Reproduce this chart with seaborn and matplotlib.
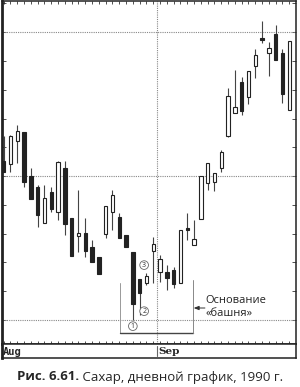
import numpy as np
import pandas as pd
import matplotlib
matplotlib.use("Agg")
import matplotlib.pyplot as plt
import seaborn as sns

# ---- data (arbitrary price units) ----
opens  = [15.52, 15.42, 16.22, 16.53, 15.00, 14.62, 13.37, 14.44, 13.75, 15.28,
          13.54, 12.92, 13.02, 12.53, 12.19, 12.99, 13.75, 13.58, 12.95, 12.36,
          11.42, 11.28, 12.40, 11.67, 11.67, 11.74, 11.28, 13.19, 12.60, 13.51,
          14.76, 14.79, 15.28, 16.39, 17.19, 18.26, 17.74, 18.82, 19.79, 19.27,
          19.93, 19.27, 17.29]
highs  = [16.39, 16.42, 16.77, 16.53, 15.28, 14.69, 14.69, 14.62, 15.52, 15.52,
          13.54, 14.51, 13.54, 12.78, 12.19, 13.96, 14.51, 13.72, 12.95, 12.36,
          11.42, 11.63, 12.88, 12.26, 11.91, 11.84, 13.13, 13.72, 13.47, 15.00,
          15.45, 15.10, 15.90, 18.06, 18.68, 18.44, 18.65, 19.41, 20.38, 19.65,
          20.24, 19.41, 19.69]
lows   = [15.14, 15.14, 15.45, 14.62, 14.20, 13.23, 13.37, 13.75, 13.47, 12.95,
          12.22, 12.36, 12.19, 12.01, 11.60, 12.85, 13.13, 12.85, 12.53, 10.00,
          10.17, 11.22, 11.28, 11.32, 11.04, 11.11, 11.28, 12.78, 12.60, 13.51,
          14.51, 14.48, 15.14, 16.35, 17.19, 17.12, 17.50, 18.40, 19.62, 18.47,
          19.03, 17.53, 17.29]
closes = [15.14, 16.39, 16.56, 14.79, 14.20, 13.65, 14.24, 13.85, 15.49, 13.33,
          12.22, 13.02, 12.40, 12.01, 11.60, 13.96, 14.34, 12.85, 12.53, 10.56,
          10.94, 11.53, 12.64, 12.12, 11.46, 11.25, 13.13, 13.13, 12.81, 15.00,
          15.45, 15.10, 15.83, 17.78, 17.40, 17.26, 18.65, 19.20, 19.72, 19.44,
          19.03, 17.85, 19.69]
month_labels = ["Aug", "Sep"]
month_starts = [-0.25, 22.57]
ref_levels = [10, 15, 20]
caption_bold = "Рис. 6.61."
caption_rest = " Сахар, дневной график, 1990 г."
note_text = ["Основание", "«башня»"]

df = pd.DataFrame({"day": np.arange(len(opens)), "open": opens, "high": highs,
                   "low": lows, "close": closes})
df["up"] = df["close"] >= df["open"]
df["body_lo"] = df[["open", "close"]].min(axis=1)
df["body_h"] = (df["close"] - df["open"]).abs().clip(lower=0.06)

sns.set_theme(style="white")
plt.rcParams["font.family"] = ["Open Sans", "DejaVu Sans"]

W, H = 300, 387
fig = plt.figure(figsize=(W / 100, H / 100), dpi=100)
ax = fig.add_axes([2 / W, 1 - 344 / H, 294 / W, 343 / H])

# reference lines
for lv in ref_levels:
    ax.axhline(lv, color="#888888", lw=0.8, ls=(0, (1, 1)), zorder=1)
ax.axvline(month_starts[1], color="#888888", lw=0.8, ls=(0, (1, 1)), zorder=1)

# wicks
ax.vlines(df["day"], df["low"], df["high"], color="#444444", lw=0.8, zorder=2)
# bodies
up = df[df["up"]]
dn = df[~df["up"]]
ax.bar(up["day"], up["body_h"], bottom=up["body_lo"], width=0.5,
       color="white", edgecolor="#222222", linewidth=0.8, zorder=3)
ax.bar(dn["day"], dn["body_h"], bottom=dn["body_lo"], width=0.5,
       color="#222222", edgecolor="#222222", linewidth=0.8, zorder=3)

ax.set_xlim(-0.25, 43.0)
ax.set_ylim(9.17, 21.08)

# ticks
ax.set_xticks(df["day"])
ax.set_yticks(np.arange(10, 22, 1))
ax.tick_params(axis="x", direction="in", length=2.5, width=0.6, top=True,
               bottom=True, labelbottom=False, color="#333333")
ax.tick_params(axis="y", direction="in", length=3, width=0.6, left=True,
               right=True, labelleft=False, color="#333333")
for s in ax.spines.values():
    s.set_color("#222222")
    s.set_linewidth(1.1)
ax.spines["left"].set_linewidth(2.0)

# annotations: circled numbers
circ = dict(boxstyle="circle,pad=0.12", fc="white", ec="#666666", lw=0.6)
ax.text(19, 9.79, "1", fontsize=5, ha="center", va="center", bbox=circ,
        color="#333333", zorder=5)
ax.text(20.66, 10.31, "2", fontsize=5, ha="center", va="center", bbox=circ,
        color="#333333", zorder=5)
ax.text(20.66, 11.91, "3", fontsize=5, ha="center", va="center", bbox=circ,
        color="#333333", zorder=5)

# bracket
ax.plot([17.13, 17.13], [11.28, 9.55], color="#999999", lw=0.7, zorder=2)
ax.plot([17.13, 27.87], [9.55, 9.55], color="#444444", lw=1.0, zorder=2)
ax.plot([27.87, 27.87], [11.39, 9.55], color="#888888", lw=0.7, zorder=2)
ax.annotate("", xy=(27.95, 10.42), xytext=(29.6, 10.42),
            arrowprops=dict(arrowstyle="-|>,head_length=0.25,head_width=0.1",
                            color="#333333", lw=0.7, shrinkA=0, shrinkB=0))
ax.text(29.7, 10.69, note_text[0], fontsize=8, ha="left", va="center",
        color="#222222")
ax.text(29.7, 10.22, note_text[1], fontsize=8, ha="left", va="center",
        color="#222222")

# date strip
ax2 = fig.add_axes([2 / W, 1 - 358 / H, 294 / W, 14 / H])
ax2.set_xlim(ax.get_xlim())
ax2.set_ylim(0, 1)
ax2.set_xticks([])
ax2.set_yticks([])
for s in ax2.spines.values():
    s.set_color("#222222")
    s.set_linewidth(1.1)
ax2.spines["left"].set_linewidth(2.0)
ax2.text(month_starts[0] + 0.15, 0.45, month_labels[0], fontsize=7.5,
         family="DejaVu Sans Mono", fontweight="bold", va="center", ha="left")
ax2.axvline(month_starts[1], ymin=0.15, ymax=0.85, color="#666666", lw=0.8)
ax2.text(month_starts[1] + 0.2, 0.45, month_labels[1], fontsize=7.5,
         family="DejaVu Serif", fontweight="bold", va="center", ha="left")

# caption
fig.canvas.draw()
r = fig.canvas.get_renderer()
t1 = fig.text(0, 1 - 377 / H, caption_bold, fontsize=9.5, fontweight="bold",
              va="center", ha="left")
t2 = fig.text(0, 1 - 377 / H, caption_rest, fontsize=9.5, va="center",
              ha="left")
w1 = t1.get_window_extent(r).width
w2 = t2.get_window_extent(r).width
x0 = (W - (w1 + w2)) / 2
t1.set_x(x0 / W)
t2.set_x((x0 + w1) / W)

fig.savefig("out.png", dpi=100)
